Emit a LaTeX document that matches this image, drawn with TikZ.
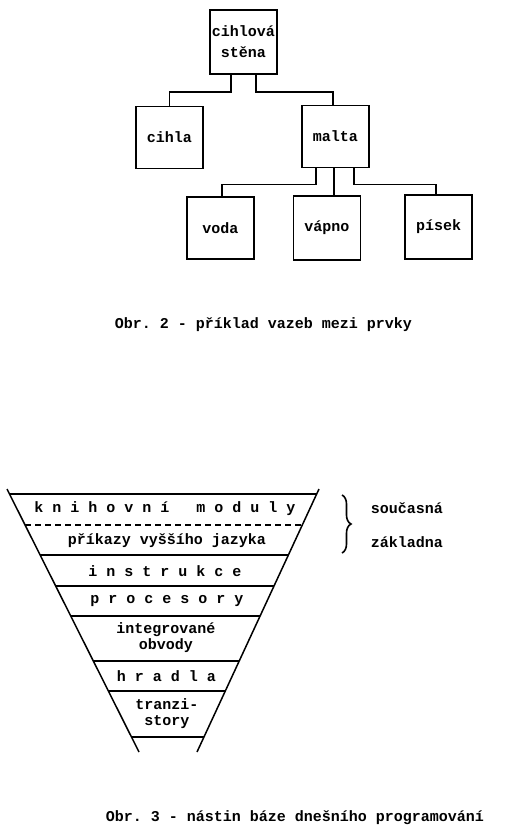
\documentclass[tikz,border=0pt]{standalone}
\usepackage{fontspec}
\setmonofont{Liberation Mono}
\usepackage{tikz}
\usetikzlibrary{calc, decorations.pathreplacing}

\tikzset{
  every node/.style={font=\ttfamily\bfseries\fontsize{15}{16}\selectfont},
  box/.style={draw, line width=1.6pt, minimum width=67pt, minimum height=62pt, inner sep=0pt, align=center},
  wire/.style={line width=1.5pt},
}

\begin{document}
\begin{tikzpicture}[x=1pt, y=-1pt]
  \useasboundingbox (0,0) rectangle (514,836);

  % Obr. 2: tree of elements
  \node[box, minimum height=64pt, font=\ttfamily\bfseries\fontsize{15}{21}\selectfont] (stena) at (243.5,42) {cihlová\\stěna};
  \node[box] (cihla) at (169.5,137.5) {cihla};
  \node[box] (malta) at (335.5,136.5) {malta};
  \node[box] (voda) at (220.5,228) {voda};
  \node[box, minimum height=64pt] (vapno) at (327,228) {vápno};
  \node[box, minimum height=64pt] (pisek) at (438.5,227) {písek};

  % Connectors
  \draw[wire] ([xshift=-12.5pt]stena.south) -- ++(0,17) -| (cihla.north);
  \draw[wire] ([xshift=12.5pt]stena.south) -- ++(0,17) -| ([xshift=-2.5pt]malta.north);
  \draw[wire] ([xshift=-19.5pt]malta.south) -- ++(0,16) -| ([xshift=1.5pt]voda.north);
  \draw[wire] ([xshift=-1.5pt]malta.south) -- ([xshift=-1.5pt]malta.south |- vapno.north);
  \draw[wire] ([xshift=18.5pt]malta.south) -- ++(0,16) -| ([xshift=-2.5pt]pisek.north);

  \node (cap2) at (263.5,325) {Obr. 2 - příklad vazeb mezi prvky};

  % Obr. 3: funnel edges
  \coordinate (lt) at (7,489);
  \coordinate (lb) at (139,752);
  \coordinate (rt) at (319,489);
  \coordinate (rb) at (197,752);
  \draw[wire] (lt) -- (lb);
  \draw[wire] (rt) -- (rb);

  % Layer borders
  \foreach \yy in {494,555,586,616,661,691,737} {
    \pgfmathsetmacro\lev{(\yy-489)/263}
    \draw[wire] ($(lt)!\lev!(lb)$) -- ($(rt)!\lev!(rb)$);
  }
  \pgfmathsetmacro\lev{(525-489)/263}
  \draw[wire, dash pattern=on 6pt off 4pt] ($(lt)!\lev!(lb)$) -- ($(rt)!\lev!(rb)$);

  % Layer labels
  \node (moduly) at (165,509) {k n i h o v n í~~~m o d u l y};
  \node (jazyk) at (167,541) {příkazy vyššího jazyka};
  \node (instr) at (165,571) {i n s t r u k c e};
  \node (proc) at (167,601) {p r o c e s o r y};
  \node[align=center] (obvody) at (166,638) {integrované\\obvody};
  \node (hradla) at (166.5,676) {h r a d l a};
  \node[align=center] (tranz) at (167,713.5) {tranzi-\\story};

  % Brace for the upper two layers
  \draw[line width=1.6pt, decorate, decoration={brace, amplitude=9pt}] (342,495) -- (342,553);
  \node (soucasna) at (407,508) {současná};
  \node (zakladna) at (407,542) {základna};

  \node (cap3) at (295,818) {Obr. 3 - nástin báze dnešního programování};
\end{tikzpicture}
\end{document}
